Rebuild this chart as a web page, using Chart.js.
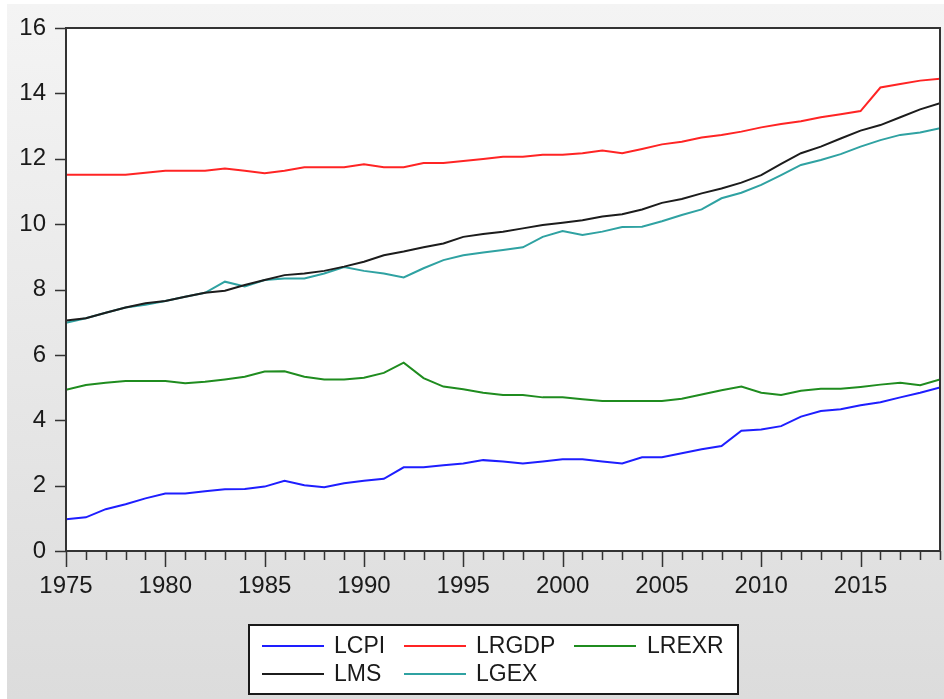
<!DOCTYPE html>
<html>
<head>
<meta charset="utf-8">
<script src="https://cdn.jsdelivr.net/npm/chart.js@4.4.1/dist/chart.umd.min.js"></script>
<style>
html,body{margin:0;padding:0;background:#fff;}
#wrap{position:absolute;left:0;top:0;width:944px;height:699px;}
canvas{display:block;}
</style>
</head>
<body>
<div id="wrap"><canvas id="c" width="944" height="699"></canvas></div>
<script>
const years = [];
for (let y = 1975; y <= 2019; y++) years.push(y);

const LCPI = [0.97,1.03,1.28,1.43,1.61,1.76,1.76,1.83,1.89,1.90,
              1.97,2.15,2.01,1.95,2.07,2.15,2.21,2.56,2.56,2.62,
              2.68,2.78,2.74,2.68,2.74,2.81,2.81,2.74,2.68,2.87,
              2.87,2.99,3.11,3.21,3.68,3.72,3.82,4.11,4.28,4.34,
              4.46,4.55,4.70,4.84,5.00];
const LRGDP = [11.51,11.51,11.51,11.51,11.57,11.63,11.63,11.63,11.70,11.63,
               11.56,11.63,11.74,11.74,11.74,11.83,11.74,11.74,11.87,11.87,
               11.93,11.99,12.06,12.06,12.12,12.12,12.17,12.25,12.17,12.30,
               12.44,12.52,12.65,12.73,12.83,12.96,13.06,13.15,13.27,13.36,
               13.46,14.18,14.29,14.39,14.45];
const LREXR = [4.93,5.08,5.15,5.20,5.20,5.20,5.13,5.18,5.25,5.33,
               5.49,5.50,5.33,5.25,5.25,5.30,5.45,5.76,5.29,5.03,
               4.95,4.84,4.77,4.77,4.70,4.70,4.64,4.59,4.59,4.59,
               4.59,4.66,4.79,4.92,5.03,4.84,4.77,4.90,4.96,4.96,
               5.02,5.09,5.15,5.07,5.25];
const LMS = [7.05,7.12,7.29,7.45,7.58,7.65,7.78,7.90,7.96,8.14,
             8.29,8.44,8.49,8.57,8.70,8.85,9.05,9.16,9.29,9.41,
             9.61,9.70,9.77,9.87,9.97,10.04,10.12,10.23,10.30,10.45,
             10.65,10.77,10.94,11.09,11.27,11.50,11.84,12.17,12.37,12.62,
             12.86,13.03,13.27,13.51,13.70];
const LGEX = [6.98,7.12,7.29,7.45,7.53,7.65,7.78,7.90,8.24,8.09,
              8.29,8.34,8.34,8.49,8.69,8.57,8.49,8.37,8.65,8.90,
              9.05,9.13,9.21,9.29,9.61,9.79,9.67,9.77,9.91,9.92,
              10.09,10.28,10.45,10.79,10.96,11.20,11.50,11.81,11.96,12.14,
              12.37,12.57,12.73,12.80,12.93];

const yTicks = [0,2,4,6,8,10,12,14,16];
const xLabelYears = [1975,1980,1985,1990,1995,2000,2005,2010,2015];

const seriesNames = ['LCPI','LRGDP','LREXR','LMS','LGEX'];
const seriesData = [LCPI, LRGDP, LREXR, LMS, LGEX];
const seriesColors = ['#1e1eff','#ff2424','#1f8c1f','#1c1c1c','#2fa2a2'];

const FONT = '"Liberation Sans", Arial, sans-serif';
const TXT = '#1a1a1a';

const datasets = seriesNames.map((n, i) => ({
  label: n,
  data: years.map((yr, j) => ({x: yr, y: seriesData[i][j]})),
  borderColor: seriesColors[i],
  backgroundColor: seriesColors[i],
  borderWidth: 2,
  pointRadius: 0,
  tension: 0,
  fill: false
}));

const decor = {
  id: 'decor',
  beforeDraw(chart) {
    const ctx = chart.ctx;
    ctx.save();
    ctx.fillStyle = '#ffffff';
    ctx.fillRect(0, 0, chart.width, chart.height);
    const g = ctx.createLinearGradient(0, 4, 0, chart.height);
    g.addColorStop(0, '#f4f4f4');
    g.addColorStop(1, '#dcdcdc');
    ctx.fillStyle = g;
    ctx.fillRect(7, 4, chart.width - 7, chart.height - 4);
    const a = chart.chartArea;
    ctx.fillStyle = '#ffffff';
    ctx.fillRect(a.left, a.top, a.right - a.left, a.bottom - a.top);
    ctx.restore();
  },
  afterDraw(chart) {
    const ctx = chart.ctx;
    const a = chart.chartArea;
    const xs = chart.scales.x, ys = chart.scales.y;
    ctx.save();
    ctx.strokeStyle = '#333333';
    ctx.lineWidth = 2;
    ctx.strokeRect(a.left, a.top, a.right - a.left, a.bottom - a.top);
    ctx.lineWidth = 1.5;
    ctx.beginPath();
    years.forEach(yr => {
      const px = Math.round(xs.getPixelForValue(yr)) + 0.5;
      const len = (yr % 5 === 0) ? 16 : 9;
      ctx.moveTo(px, a.bottom);
      ctx.lineTo(px, a.bottom + len);
    });
    yTicks.forEach(v => {
      const py = Math.round(ys.getPixelForValue(v)) + 0.5;
      ctx.moveTo(a.left - 11, py);
      ctx.lineTo(a.left, py);
    });
    ctx.stroke();

    // legend
    const bx = 249, by = 625, bw = 489, bh = 69;
    ctx.fillStyle = '#ffffff';
    ctx.fillRect(bx, by, bw, bh);
    ctx.strokeStyle = '#1a1a1a';
    ctx.lineWidth = 2;
    ctx.strokeRect(bx, by, bw, bh);
    const cols = [[262, 334], [404, 476], [574, 647]];
    const rows = [646, 674];
    ctx.font = '23px ' + FONT;
    ctx.textBaseline = 'middle';
    ctx.textAlign = 'left';
    chart.data.datasets.forEach((ds, i) => {
      const c = cols[i % 3], r = rows[Math.floor(i / 3)];
      ctx.strokeStyle = ds.borderColor;
      ctx.lineWidth = 2;
      ctx.beginPath();
      ctx.moveTo(c[0], r);
      ctx.lineTo(c[0] + 62, r);
      ctx.stroke();
      ctx.fillStyle = TXT;
      ctx.fillText(ds.label, c[1], r + 1);
    });
    ctx.restore();
  }
};

new Chart(document.getElementById('c'), {
  type: 'line',
  data: { datasets },
  options: {
    responsive: false,
    animation: false,
    layout: { padding: { left: 0, top: 28, right: 4, bottom: 0 } },
    plugins: { legend: { display: false }, tooltip: { enabled: false } },
    scales: {
      x: {
        type: 'linear',
        min: 1975, max: 2019,
        afterFit(s) { s.height = 148; s.paddingLeft = 0; s.paddingRight = 0; },
        afterBuildTicks(s) { s.ticks = xLabelYears.map(v => ({ value: v })); },
        grid: { display: false, drawTicks: false },
        border: { display: false },
        ticks: {
          autoSkip: false, maxRotation: 0, padding: 21,
          color: TXT, font: { family: FONT, size: 24 },
          callback: v => String(v)
        }
      },
      y: {
        min: 0, max: 16,
        afterFit(s) { s.width = 66; s.paddingTop = 0; s.paddingBottom = 0; },
        afterBuildTicks(s) { s.ticks = yTicks.map(v => ({ value: v })); },
        grid: { display: false, drawTicks: false },
        border: { display: false },
        ticks: {
          padding: 20, color: TXT, font: { family: FONT, size: 24 },
          callback: v => String(v)
        }
      }
    }
  },
  plugins: [decor]
});
</script>
</body>
</html>
